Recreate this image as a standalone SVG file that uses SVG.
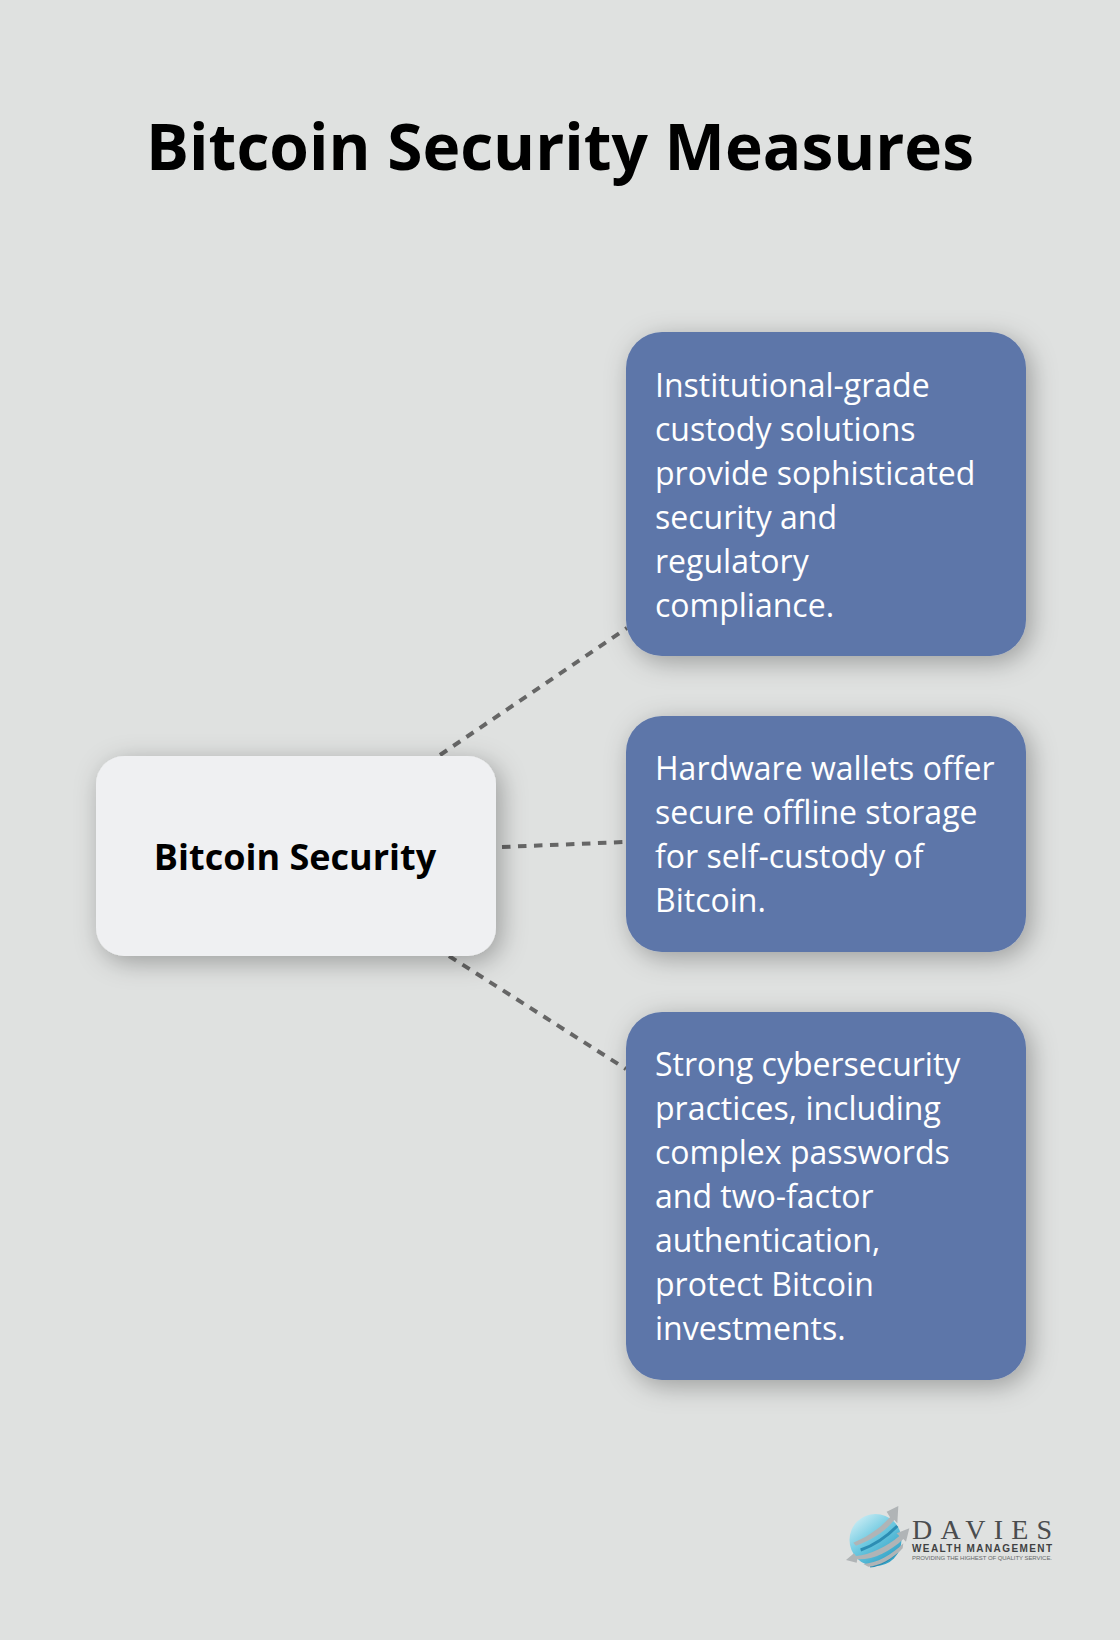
<svg xmlns="http://www.w3.org/2000/svg" width="1120" height="1640" viewBox="0 0 1120 1640">
<defs>
<filter id="sh" x="-30%" y="-30%" width="160%" height="160%"><feDropShadow dx="5" dy="6" stdDeviation="13" flood-color="#000" flood-opacity="0.3"/></filter>
<linearGradient id="globe" x1="0.1" y1="0.1" x2="0.8" y2="1"><stop offset="0" stop-color="#c8ecf4"/><stop offset="0.45" stop-color="#6cc8e0"/><stop offset="1" stop-color="#2a9cc2"/></linearGradient>
</defs>
<style>
text{font-family:"Open Sans","Noto Sans",sans-serif}
.b{fill:#5d76a9;filter:url(#sh)}
.t{font-size:32px;fill:#fff}
.c{stroke:#666;stroke-width:4;stroke-dasharray:8.500 7.500;fill:none}
.s{fill:#b0b4b6}
.k{fill:none;stroke:#2c8db3;stroke-width:9}
</style>
<rect width="1120" height="1640" fill="#dfe1e0"/>
<text x="560" y="170" font-size="64" font-weight="700" text-anchor="middle" fill="#000">Bitcoin Security Measures</text>
<g id="connectors">
<line class="c" x1="440" y1="755" x2="627" y2="628"/>
<line class="c" x1="502" y1="847" x2="625" y2="842"/>
<line class="c" x1="449" y1="956" x2="626" y2="1069"/>
</g>
<g id="center"><rect x="96" y="756" width="400" height="200" rx="28" fill="#eff0f2" filter="url(#sh)"/>
<text x="295" y="870" font-size="36" font-weight="700" text-anchor="middle" fill="#000">Bitcoin Security</text></g>
<g id="n1"><rect class="b" x="626" y="332" width="400" height="324" rx="36"/>
<text class="t"><tspan x="655" y="396.500">Institutional-grade</tspan><tspan x="655" y="440.500">custody solutions</tspan><tspan x="655" y="484.500">provide sophisticated</tspan><tspan x="655" y="528.500">security and</tspan><tspan x="655" y="572.500">regulatory</tspan><tspan x="655" y="616.500">compliance.</tspan></text></g>
<g id="n2"><rect class="b" x="626" y="716" width="400" height="236" rx="36"/>
<text class="t"><tspan x="655" y="780">Hardware wallets offer</tspan><tspan x="655" y="824">secure offline storage</tspan><tspan x="655" y="868">for self-custody of</tspan><tspan x="655" y="912">Bitcoin.</tspan></text></g>
<g id="n3"><rect class="b" x="626" y="1012" width="400" height="368" rx="36"/>
<text class="t"><tspan x="655" y="1076">Strong cybersecurity</tspan><tspan x="655" y="1120">practices, including</tspan><tspan x="655" y="1164">complex passwords</tspan><tspan x="655" y="1208">and two-factor</tspan><tspan x="655" y="1252">authentication,</tspan><tspan x="655" y="1296">protect Bitcoin</tspan><tspan x="655" y="1340">investments.</tspan></text></g>
<g id="logo">
<circle cx="875.500" cy="1540" r="26" fill="url(#globe)"/>
<g transform="translate(840 1500) scale(0.3333)">
<path class="k" d="M62 150C105 135 145 105 172 78"/>
<path class="k" d="M90 198C125 195 160 170 180 145"/>
<path class="s" d="M40 128C85 110 125 80 150 52L140 35L175 18L172 70L163 60C135 95 95 120 48 137Z"/>
<path class="s" d="M18 180L42 160L48 168C90 165 140 140 178 108L170 100L208 85L198 125L190 117C150 155 100 180 52 178L50 188Z"/>
<path class="s" d="M70 192C110 190 155 165 190 130L188 145C160 175 115 200 85 200Z"/>
</g>
<text x="912" y="1538.500" font-size="28" fill="#4a4c4e" textLength="140" lengthAdjust="spacing" style="font-family:'Liberation Serif',serif">DAVIES</text>
<text x="912" y="1552" font-size="10" font-weight="700" fill="#3f4143" textLength="140" lengthAdjust="spacing" style="font-family:'Liberation Sans',sans-serif">WEALTH MANAGEMENT</text>
<text x="912" y="1560" font-size="6" fill="#66686a" textLength="140" lengthAdjust="spacing" style="font-family:'Liberation Sans',sans-serif">PROVIDING THE HIGHEST OF QUALITY SERVICE.</text>
</g>
</svg>
